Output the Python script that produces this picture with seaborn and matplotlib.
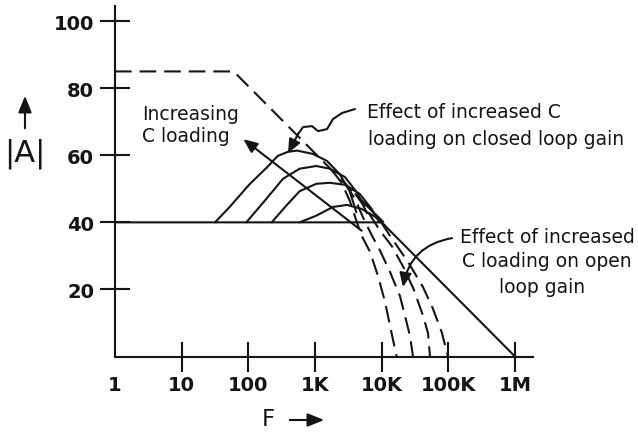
import matplotlib
matplotlib.use("Agg")
import matplotlib.pyplot as plt
import pandas as pd
import seaborn as sns

sns.set_theme(style="white")
plt.rcParams["font.family"] = ["DejaVu Sans"]

INK = "#151515"

# Frequency is plotted in decades: x = log10(F / 1 Hz)
x_ticks = [0, 1, 2, 3, 4, 5, 6]
x_tick_labels = ["1", "10", "100", "1K", "10K", "100K", "1M"]
y_ticks = [20, 40, 60, 80, 100]

# Open-loop gain (dashed) and the 40 dB closed-loop response (solid)
open_loop_x = [0.0, 1.78, 4.03]
open_loop_db = [85, 85, 40]
closed_loop_x = [0.0, 4.0, 6.0]
closed_loop_db = [40, 40, 0]

# Closed-loop peaking for increasing C loading
hump1_x = [1.50, 1.72, 2.02, 2.28, 2.44, 2.59, 2.73, 2.97, 3.18, 3.37, 3.52, 3.62]
hump1_db = [40.0, 44.6, 51.4, 56.4, 59.8, 61.0, 61.4, 60.4, 58.3, 54.4, 49.3, 43.0]
hump2_x = [1.97, 2.27, 2.52, 2.77, 3.02, 3.22, 3.45, 3.64, 3.78]
hump2_db = [40.0, 47.0, 53.0, 56.0, 56.8, 56.0, 53.5, 48.6, 42.7]
hump3_x = [2.35, 2.57, 2.77, 3.02, 3.22, 3.45, 3.67, 3.85, 3.97]
hump3_db = [40.0, 45.0, 49.3, 51.5, 51.8, 51.2, 48.5, 44.0, 40.0]
hump4_x = [2.77, 3.02, 3.27, 3.48, 3.70, 3.90, 4.05]
hump4_db = [40.0, 42.0, 44.6, 45.2, 44.0, 41.7, 39.0]

# Open-loop roll-off for increasing C loading
roll1_x = [3.25, 3.40, 3.52, 3.62, 3.70, 3.825, 3.945, 4.05, 4.125, 4.20, 4.225]
roll1_db = [55.6, 51.8, 46.5, 40.5, 36.0, 31.2, 24.0, 16.3, 9.2, 2.2, 0.0]
roll2_x = [3.45, 3.60, 3.72, 3.85, 3.975, 4.125, 4.275, 4.35, 4.425, 4.47]
roll2_db = [51.6, 47.0, 41.5, 36.2, 31.6, 25.2, 18.0, 12.1, 6.1, 0.0]
roll3_x = [3.60, 3.75, 3.88, 3.975, 4.15, 4.325, 4.475, 4.62, 4.695, 4.725]
roll3_db = [48.6, 44.5, 40.5, 37.5, 33.0, 26.7, 20.3, 12.2, 7.0, 0.0]
roll4_x = [3.75, 3.95, 4.125, 4.395, 4.62, 4.77, 4.90, 4.995]
roll4_db = [45.6, 41.3, 36.0, 28.2, 20.7, 14.2, 7.3, 0.0]

# Leader for the closed-loop note
leader_x = [3.60, 3.405, 3.27, 3.18, 3.045, 2.955, 2.82, 2.745]
leader_db = [73.8, 72.6, 70.8, 67.8, 67.2, 68.7, 68.4, 66.3]

fig = plt.figure(figsize=(6.38, 4.35), dpi=100)
fig.patch.set_facecolor("#fdfdfd")
ax = fig.add_axes([115 / 638, 77.5 / 435, 418 / 638, 350.8 / 435])
ax.set_facecolor("#fdfdfd")

LW = 1.5
DASH = (0, (8, 3.8))

def curve(xs, ys, dashed=False):
    df = pd.DataFrame({"x": xs, "y": ys})
    sns.lineplot(data=df, x="x", y="y", ax=ax, sort=False, color=INK,
                 linewidth=LW, linestyle=DASH if dashed else "-",
                 estimator=None, clip_on=False)

curve(open_loop_x, open_loop_db, dashed=True)
curve(closed_loop_x, closed_loop_db)
for hx, hy in [(hump1_x, hump1_db), (hump2_x, hump2_db),
               (hump3_x, hump3_db), (hump4_x, hump4_db)]:
    curve(hx, hy)
for rx, ry in [(roll1_x, roll1_db), (roll2_x, roll2_db),
               (roll3_x, roll3_db), (roll4_x, roll4_db)]:
    curve(rx, ry, dashed=True)

ax.set_xlim(0, 6.27)
ax.set_ylim(0, 104.6)
ax.set_xticks(x_ticks)
ax.set_xticklabels(x_tick_labels)
ax.set_yticks(y_ticks)
ax.set_yticklabels([str(v) for v in y_ticks])
ax.set_xlabel("")
ax.set_ylabel("")
for side in ("top", "right"):
    ax.spines[side].set_visible(False)
for side in ("left", "bottom"):
    ax.spines[side].set_color(INK)
    ax.spines[side].set_linewidth(LW)
ax.tick_params(axis="both", which="major", direction="inout", length=21.6,
               width=LW, color=INK, labelcolor=INK, labelsize=14,
               bottom=True, left=True)
ax.tick_params(axis="y", pad=4.3)
ax.tick_params(axis="x", pad=2.6)
for lbl in ax.get_xticklabels() + ax.get_yticklabels():
    lbl.set_fontweight("bold")
# the origin carries a label but no tick mark
ax.xaxis.get_major_ticks()[0].tick1line.set_visible(False)

arrow_kw = dict(arrowstyle="-|>,head_length=0.7,head_width=0.3",
                color=INK, lw=LW, shrinkA=0, shrinkB=0)

# Increasing C loading
ax.annotate("", xy=(1.925, 64.8), xytext=(3.70, 37.5), arrowprops=arrow_kw)
ax.text(0.405, 70.8, "Increasing", fontsize=13.5, color=INK, va="baseline")
ax.text(0.405, 64.4, "C loading", fontsize=13.5, color=INK, va="baseline")

# Closed-loop note
ax.plot(leader_x, leader_db, color=INK, lw=LW, clip_on=False)
ax.annotate("", xy=(2.595, 60.6), xytext=(leader_x[-1], leader_db[-1]),
            arrowprops=arrow_kw)
ax.text(3.775, 71.4, "Effect of increased C", fontsize=13.5, color=INK,
        va="baseline", clip_on=False)
ax.text(3.795, 63.3, "loading on closed loop gain", fontsize=13.5,
        color=INK, va="baseline", clip_on=False)

# Open-loop note
ax.annotate("", xy=(4.32, 20.7), xytext=(5.055, 35.3),
            arrowprops=dict(connectionstyle="arc3,rad=0.35", **arrow_kw))
ax.text(5.175, 34.1, "Effect of increased", fontsize=13.5, color=INK,
        va="baseline", clip_on=False)
ax.text(5.205, 27.0, "C loading on open", fontsize=13.5, color=INK,
        va="baseline", clip_on=False)
ax.text(5.76, 19.2, "loop gain", fontsize=13.5, color=INK,
        va="baseline", clip_on=False)

# Axis titles with direction arrows
fig.text(25 / 638, 1 - 154 / 435, "|A|", fontsize=22, color=INK,
         ha="center", va="center")
fig.add_artist(matplotlib.patches.FancyArrowPatch(
    (25 / 638, 1 - 132 / 435), (25 / 638, 1 - 94 / 435),
    transform=fig.transFigure, arrowstyle="-|>,head_length=0.5,head_width=0.2",
    color=INK, lw=LW, mutation_scale=20))
fig.text(268 / 638, 1 - 420 / 435, "F", fontsize=16.5, color=INK,
         ha="center", va="center")
fig.add_artist(matplotlib.patches.FancyArrowPatch(
    (287 / 638, 1 - 421 / 435), (327 / 638, 1 - 421 / 435),
    transform=fig.transFigure, arrowstyle="-|>,head_length=0.5,head_width=0.2",
    color=INK, lw=LW, mutation_scale=20))

fig.savefig("out.png", dpi=100, facecolor=fig.get_facecolor())
